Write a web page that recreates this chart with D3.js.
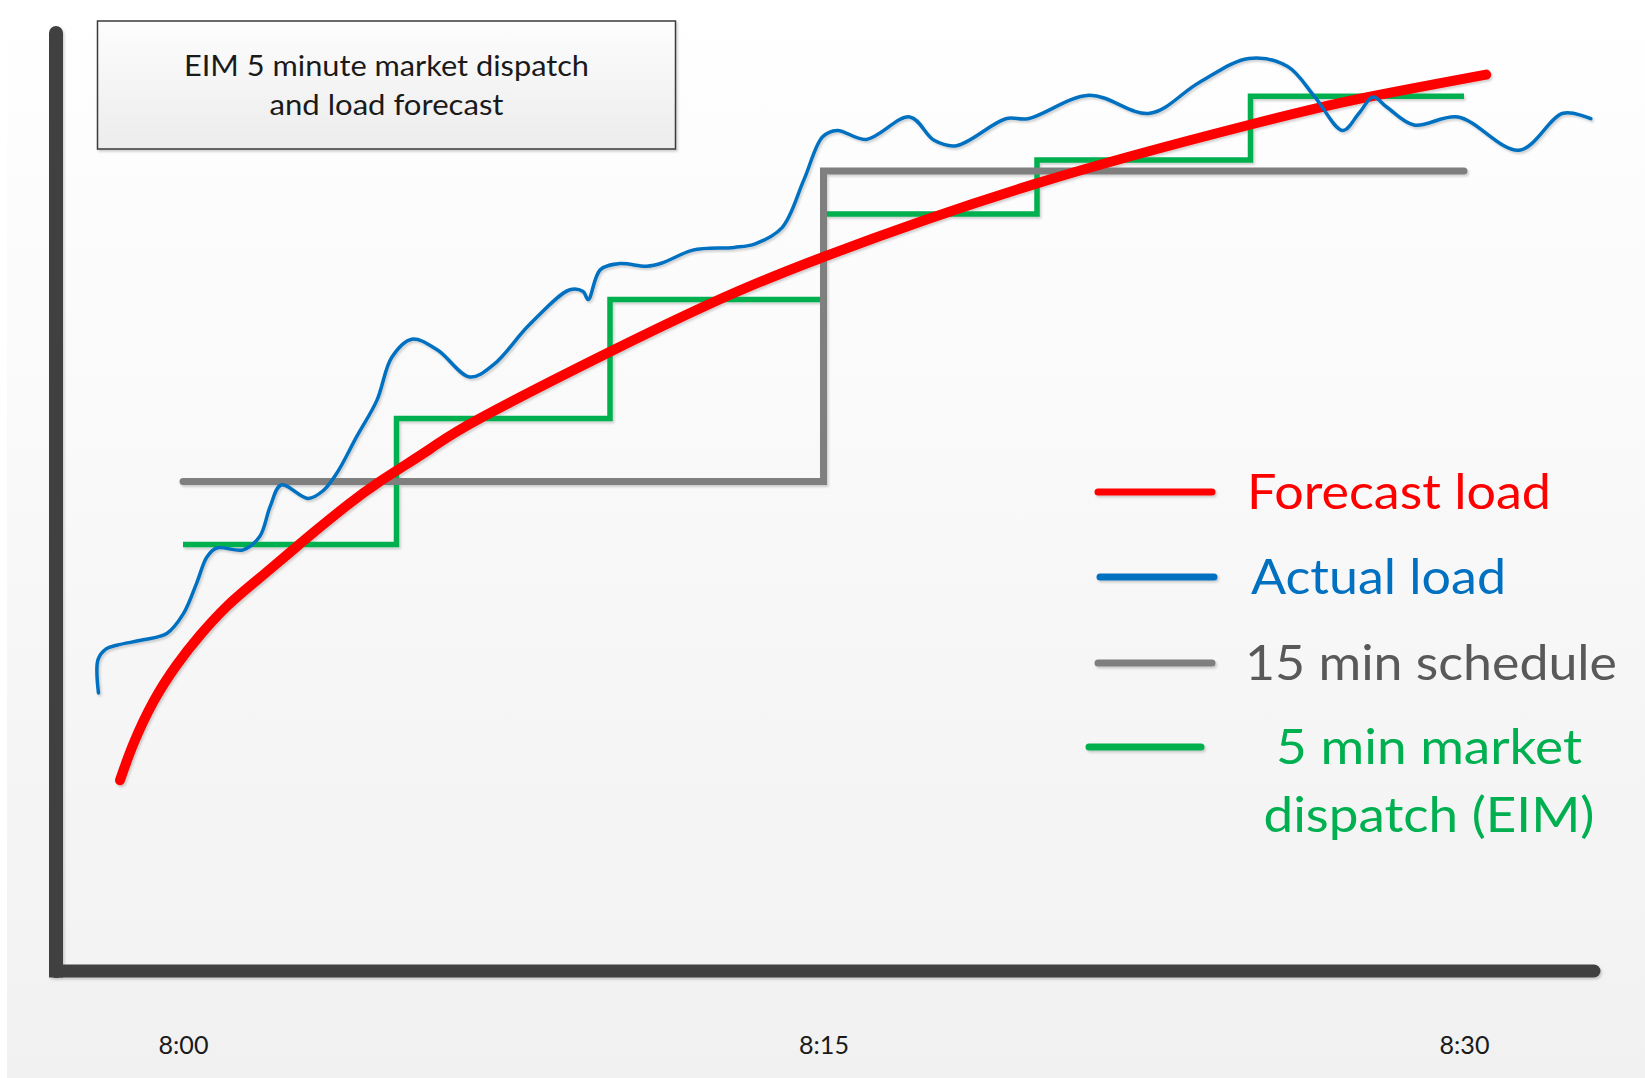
<!DOCTYPE html>
<html>
<head>
<meta charset="utf-8">
<script src="https://cdn.jsdelivr.net/npm/d3@7"></script>
<style>
  html, body { margin: 0; padding: 0; background: #ffffff; }
  svg { display: block; }
</style>
</head>
<body>
<svg id="chart" width="1645" height="1078"></svg>
<script>
// ---- data (time in minutes after 8:00, load in relative units) ----
const tickMinutes = [0, 15, 30];
const tickLabels = ["8:00", "8:15", "8:30"];

const forecastT = [-1.475, -1.164, -0.696, -0.148, 0.398, 1.023, 1.726, 2.429, 3.052, 3.834, 4.614, 5.785, 6.956, 10.0, 12.42, 14.92, 19.92, 24.96, 27.54, 30.52];
const forecastV = [21.2, 25.2, 29.9, 34.0, 37.3, 40.5, 43.4, 46.2, 48.7, 51.7, 54.4, 58.0, 61.4, 68.8, 74.3, 79.2, 87.4, 94.0, 96.9, 99.6];

const actualT = [-1.98, -1.99, -1.80, -1.55, -0.93, -0.38, 0.01, 0.32, 0.56, 0.79, 1.41, 1.80, 2.04, 2.30, 2.93, 3.29, 3.60, 4.07, 4.54, 4.89, 5.36, 5.96, 6.72, 7.28, 8.11, 9.06, 9.37, 9.49, 9.77, 10.23, 10.86, 11.24, 11.94, 12.91, 13.40, 14.03, 14.54, 14.98, 15.32, 16.0, 17.02, 17.59, 18.11, 19.27, 19.79, 21.22, 22.64, 23.79, 24.96, 25.87, 26.51, 27.16, 27.54, 27.87, 28.19, 28.83, 29.86, 31.29, 32.32, 32.97];
const actualV = [30.9, 34.6, 35.8, 36.2, 36.8, 37.5, 39.7, 43.1, 46.0, 47.0, 46.8, 48.3, 51.6, 54.0, 52.5, 53.4, 55.3, 59.4, 63.4, 68.2, 70.2, 69.0, 66.0, 67.4, 71.8, 75.7, 75.5, 74.6, 77.9, 78.6, 78.3, 78.7, 80.1, 80.4, 80.8, 82.6, 87.9, 92.7, 93.4, 92.4, 94.9, 92.3, 91.7, 94.7, 94.7, 97.3, 95.3, 98.7, 101.4, 100.5, 97.1, 93.4, 95.3, 97.1, 96.0, 94.0, 94.9, 91.2, 95.3, 94.7];

// 15 minute schedule: one level per interval, last entry closes the final interval
const scheduleT = [0, 15, 30];
const scheduleV = [54.4, 88.9, 88.9];

// 5 minute market dispatch
const dispatchT = [0, 5, 10, 15, 20, 25, 30];
const dispatchV = [47.4, 61.4, 74.6, 84.1, 90.1, 97.2, 97.2];

const legendLabels = ["Forecast load", "Actual load", "15 min schedule", ["5 min market", "dispatch (EIM)"]];
const legendColors = ["#ff0000", "#0070c0", "#7f7f7f", "#00b050"];
const legendTextColors = ["#ff0000", "#0070c0", "#595959", "#00b050"];

const titleLines = ["EIM 5 minute market dispatch", "and load forecast"];

// ---- layout ----
const W = 1645, H = 1078;
const svg = d3.select("#chart");

const x = d3.scaleLinear().domain([0, 30]).range([183, 1464]);
const y = d3.scaleLinear().domain([0, 100]).range([971, 71]);

const zip = (ts, vs) => ts.map((t, i) => ({ t, v: vs[i] }));

const defs = svg.append("defs");
const bg = defs.append("linearGradient").attr("id", "bgGrad").attr("x1", 0).attr("y1", 0).attr("x2", 0).attr("y2", 1);
bg.append("stop").attr("offset", "0%").attr("stop-color", "#ffffff");
bg.append("stop").attr("offset", "100%").attr("stop-color", "#f1f1f1");

const boxGrad = defs.append("linearGradient").attr("id", "boxGrad").attr("x1", 0).attr("y1", 0).attr("x2", 0).attr("y2", 1);
boxGrad.append("stop").attr("offset", "0%").attr("stop-color", "#fdfdfd");
boxGrad.append("stop").attr("offset", "100%").attr("stop-color", "#ececec");

// soft drop shadow in canvas coordinates so thin horizontal strokes keep it
const shadow = defs.append("filter").attr("id", "shadow")
  .attr("filterUnits", "userSpaceOnUse").attr("x", 0).attr("y", 0).attr("width", W).attr("height", H);
shadow.append("feDropShadow").attr("dx", 1.5).attr("dy", 2).attr("stdDeviation", 1.2)
  .attr("flood-color", "#000").attr("flood-opacity", 0.18);

// background panel
svg.append("rect").attr("x", 0).attr("y", 0).attr("width", W).attr("height", H).attr("fill", "#ffffff");
svg.append("rect").attr("x", 7).attr("y", 0).attr("width", W - 7).attr("height", H).attr("fill", "url(#bgGrad)");

// axes lines (thick frame)
const axisG = svg.append("g").attr("filter", "url(#shadow)");
axisG.append("line").attr("x1", 56).attr("x2", 56).attr("y1", 33).attr("y2", 971)
  .attr("stroke", "#404040").attr("stroke-width", 14).attr("stroke-linecap", "round");
axisG.append("line").attr("x1", 56).attr("x2", 1594).attr("y1", 971).attr("y2", 971)
  .attr("stroke", "#404040").attr("stroke-width", 13).attr("stroke-linecap", "round");
axisG.append("rect").attr("x", 49).attr("y", 964.5).attr("width", 14).attr("height", 13).attr("fill", "#404040");

// tick labels via d3 axis
const xAxis = d3.axisBottom(x).tickValues(tickMinutes).tickFormat((d, i) => tickLabels[i]).tickSize(0).tickPadding(0);
const axG = svg.append("g").attr("transform", "translate(0,1054)").call(xAxis);
axG.select(".domain").remove();
axG.selectAll("text")
  .attr("dy", 0)
  .attr("font-family", "Lato, sans-serif")
  .attr("font-size", 25)
  .attr("textLength", 50)
  .attr("lengthAdjust", "spacingAndGlyphs")
  .attr("fill", "#1a1a1a");

// title box
const titleWidths = [405, 234];
const tb = svg.append("g");
tb.append("rect").attr("x", 97.5).attr("y", 21).attr("width", 578).attr("height", 128)
  .attr("fill", "url(#boxGrad)").attr("stroke", "#3a3a3a").attr("stroke-width", 1.5).attr("filter", "url(#shadow)");
tb.selectAll("text").data(titleLines).enter().append("text")
  .attr("x", 386.5).attr("y", (d, i) => 76 + i * 39)
  .attr("text-anchor", "middle")
  .attr("font-family", "Lato, 'Open Sans', sans-serif")
  .attr("font-size", 29)
  .attr("textLength", (d, i) => titleWidths[i])
  .attr("lengthAdjust", "spacingAndGlyphs")
  .attr("fill", "#1a1a1a")
  .text(d => d);

// series
const plot = svg.append("g").attr("filter", "url(#shadow)");

const stepLine = d3.line().x(d => x(d.t)).y(d => y(d.v)).curve(d3.curveStepAfter);

plot.append("path")
  .datum(zip(dispatchT, dispatchV))
  .attr("d", stepLine)
  .attr("fill", "none").attr("stroke", "#00b050").attr("stroke-width", 5.5).attr("stroke-linejoin", "miter");

plot.append("path")
  .datum(zip(scheduleT, scheduleV))
  .attr("d", stepLine)
  .attr("fill", "none").attr("stroke", "#7f7f7f").attr("stroke-width", 7)
  .attr("stroke-linecap", "round").attr("stroke-linejoin", "miter");

plot.append("path")
  .datum(zip(forecastT, forecastV))
  .attr("d", d3.line().x(d => x(d.t)).y(d => y(d.v)).curve(d3.curveNatural))
  .attr("fill", "none").attr("stroke", "#ff0000").attr("stroke-width", 10).attr("stroke-linecap", "round");

plot.append("path")
  .datum(zip(actualT, actualV))
  .attr("d", d3.line().x(d => x(d.t)).y(d => y(d.v)).curve(d3.curveCatmullRom.alpha(0.5)))
  .attr("fill", "none").attr("stroke", "#0070c0").attr("stroke-width", 3.5).attr("stroke-linecap", "round");

// legend
const legendLineX = [[1098, 1212], [1100, 1214], [1098, 1212], [1089, 1201]];
const legendRowY = [492, 577, 663, 747];
const legendTextX = [1247, 1251, 1245];
const legendTextW = [[304], [255], [372], [306, 331]];
const leg = svg.append("g");
legendLabels.forEach((lab, i) => {
  leg.append("line")
    .attr("x1", legendLineX[i][0]).attr("x2", legendLineX[i][1])
    .attr("y1", legendRowY[i]).attr("y2", legendRowY[i])
    .attr("stroke", legendColors[i]).attr("stroke-width", 7).attr("stroke-linecap", "round")
    .attr("filter", "url(#shadow)");
  const lines = Array.isArray(lab) ? lab : [lab];
  lines.forEach((s, k) => {
    const t = leg.append("text")
      .attr("font-family", "Lato, 'Open Sans', sans-serif")
      .attr("font-size", 48)
      .attr("fill", legendTextColors[i])
      .attr("y", legendRowY[i] + 17 + k * 68)
      .attr("textLength", legendTextW[i][k])
      .attr("lengthAdjust", "spacingAndGlyphs")
      .text(s);
    if (lines.length === 1) {
      t.attr("x", legendTextX[i]);
    } else {
      t.attr("x", 1429).attr("text-anchor", "middle");
    }
  });
});
</script>
</body>
</html>
